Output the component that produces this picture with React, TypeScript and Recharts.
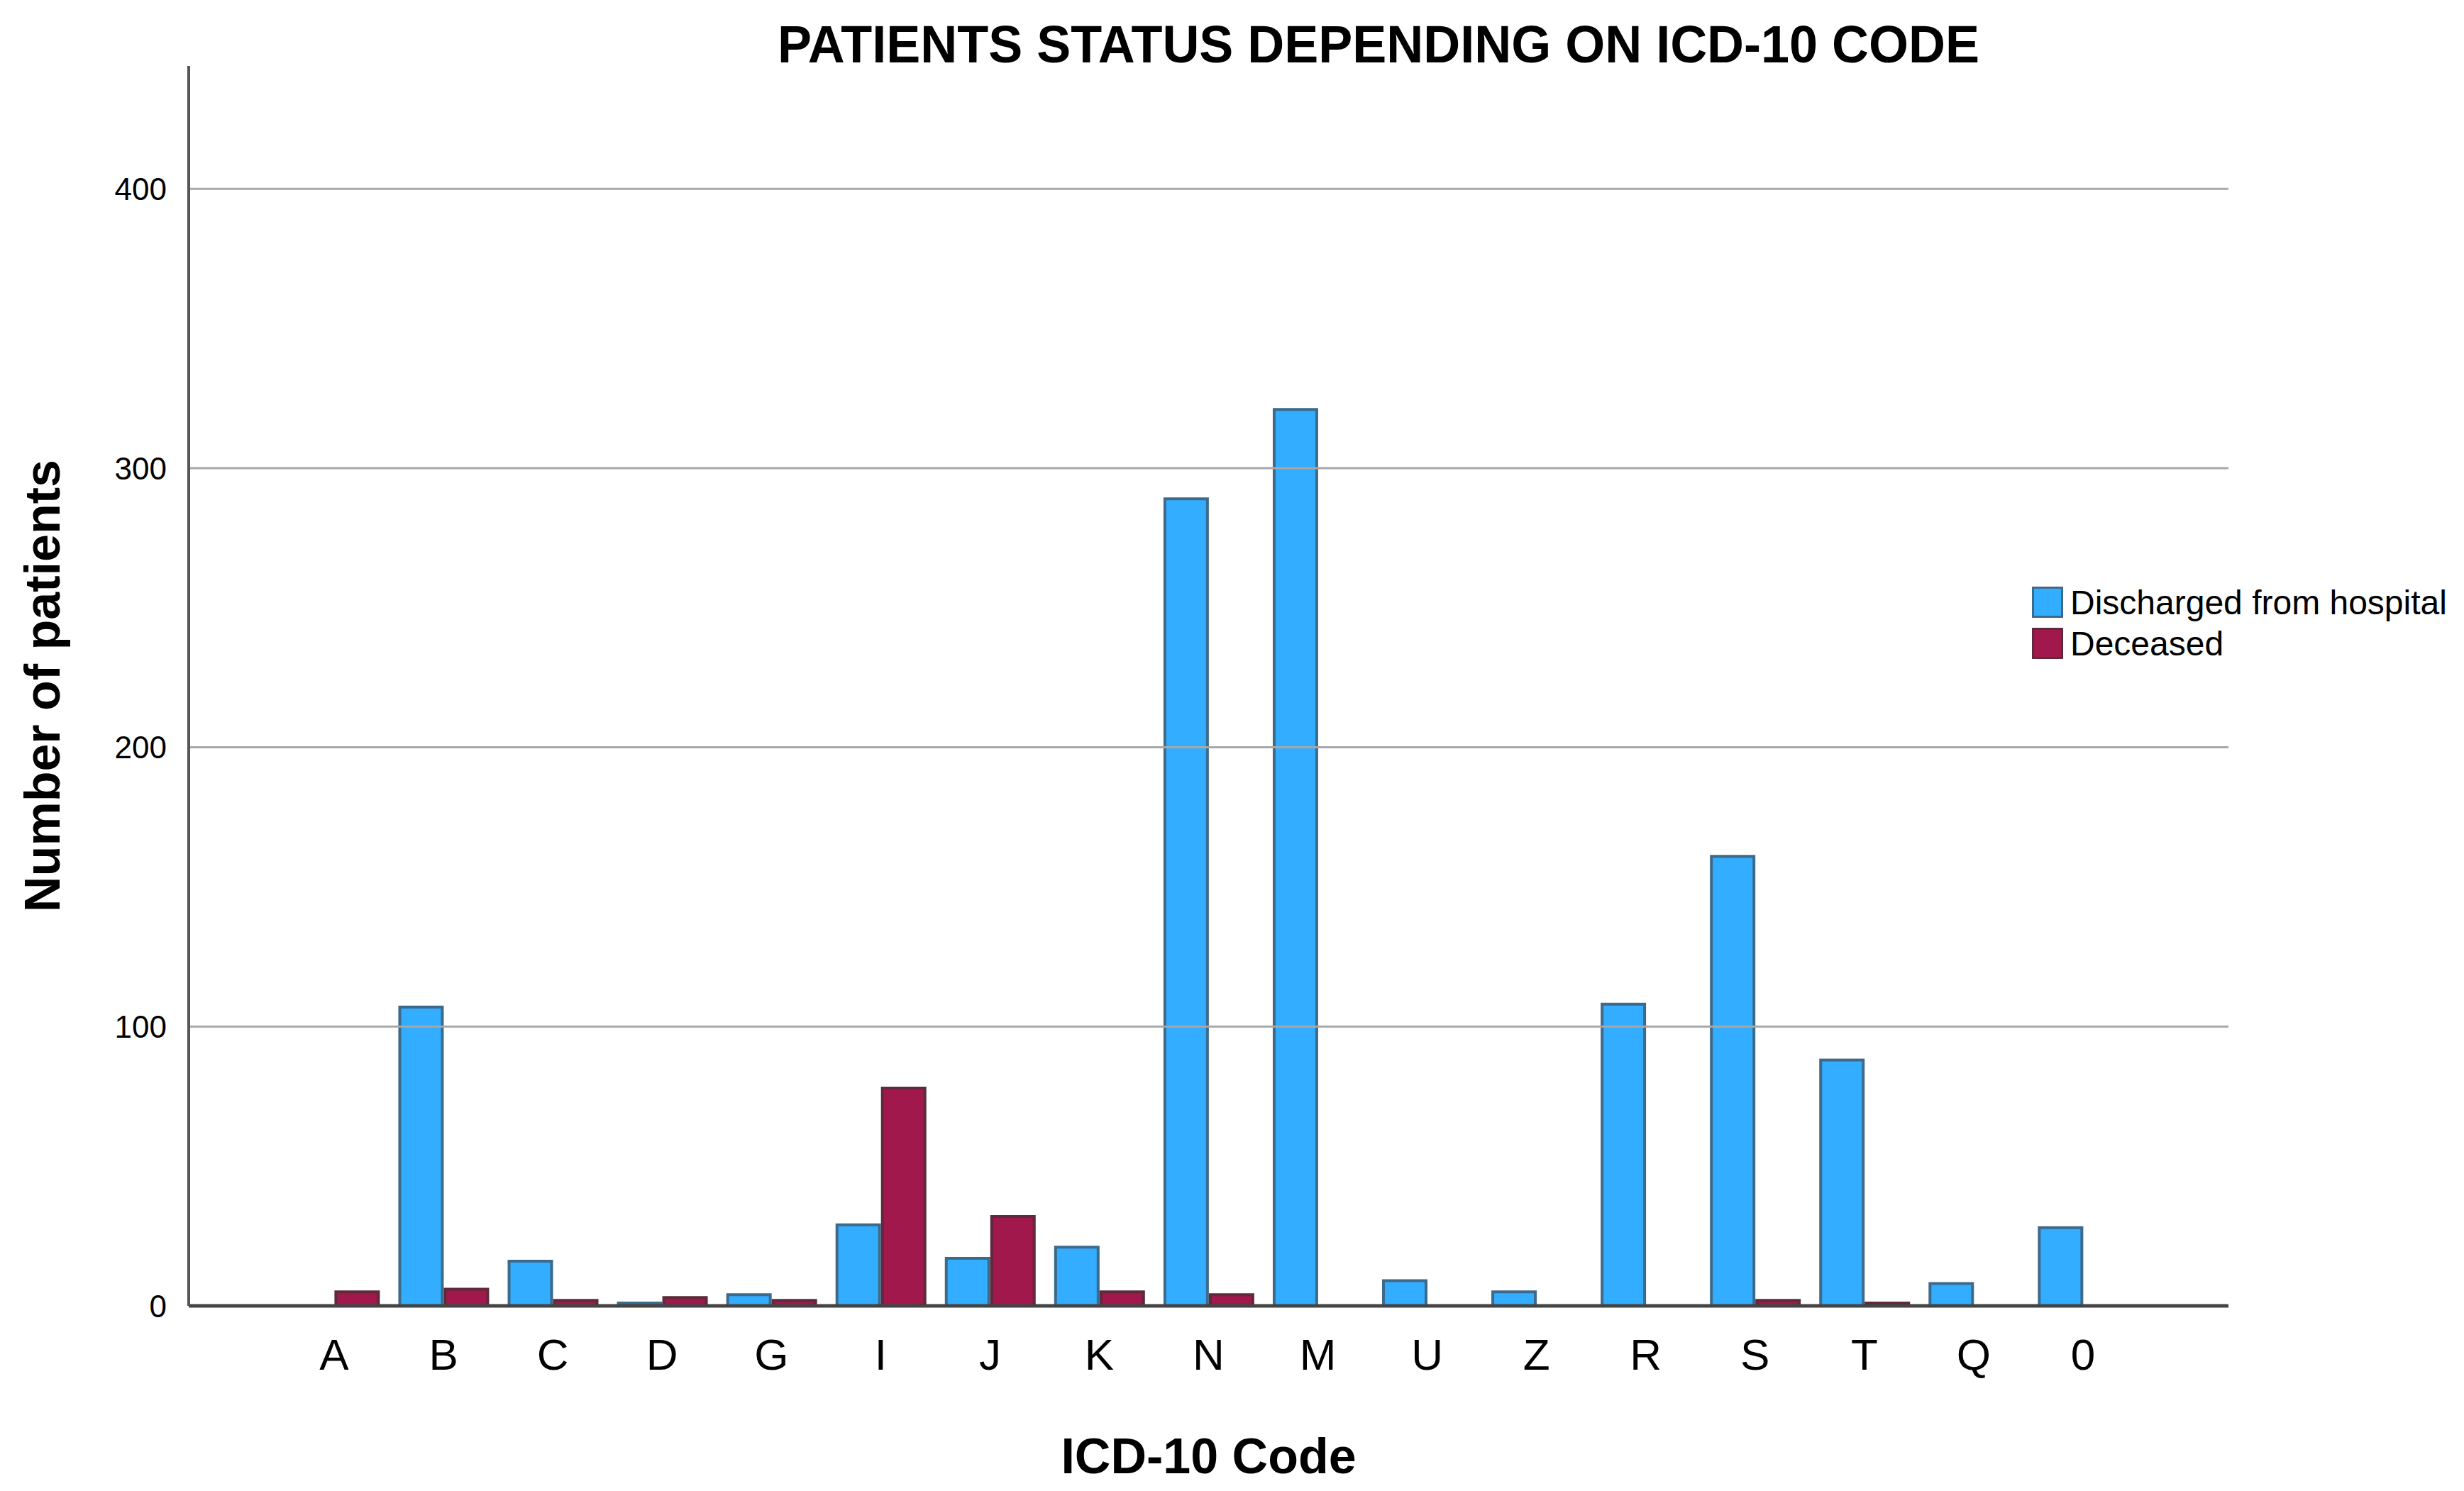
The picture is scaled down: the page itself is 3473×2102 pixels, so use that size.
import { Bar, BarChart, Legend, ReferenceLine, XAxis, YAxis } from "recharts";

const codes = ["A", "B", "C", "D", "G", "I", "J", "K", "N", "M", "U", "Z", "R", "S", "T", "Q", "0"];
const discharged = [0, 107, 16, 1, 4, 29, 17, 21, 289, 321, 9, 5, 108, 161, 88, 8, 28];
const deceased = [5, 6, 2, 3, 2, 78, 32, 5, 4, 0, 0, 0, 0, 2, 1, 0, 0];
const yTicks = [0, 100, 200, 300, 400];

const SERIES = [
  { key: "discharged", name: "Discharged from hospital", fill: "#33adff", stroke: "#3e6a8a" },
  { key: "deceased", name: "Deceased", fill: "#a0184c", stroke: "#5e2a3c" },
];

const FONT = '"Liberation Sans", Arial, sans-serif';

const data = codes.map((code, i) => ({
  code,
  discharged: discharged[i],
  deceased: deceased[i],
}));

function StatusLegend() {
  return (
    <div style={{ fontFamily: FONT, fontSize: 48, color: "#000", whiteSpace: "nowrap" }}>
      {SERIES.map((s) => (
        <div key={s.key} style={{ display: "flex", alignItems: "center", height: 58 }}>
          <span
            style={{
              display: "inline-block",
              width: 38,
              height: 38,
              background: s.fill,
              border: `3px solid ${s.stroke}`,
              marginRight: 10,
            }}
          />
          <span>{s.name}</span>
        </div>
      ))}
    </div>
  );
}

export default function App() {
  return (
    <div style={{ position: "absolute", left: 0, top: 0, width: 3473, height: 2102, background: "#fff" }}>
      <svg
        width={3473}
        height={120}
        style={{ position: "absolute", left: 0, top: 0, pointerEvents: "none" }}
      >
        <text
          x={1943}
          y={88}
          textAnchor="middle"
          fontFamily={FONT}
          fontWeight="bold"
          fontSize={74}
          textLength={1694}
          lengthAdjust="spacingAndGlyphs"
          fill="#000"
        >
          PATIENTS STATUS DEPENDING ON ICD-10 CODE
        </text>
      </svg>
      <BarChart
        width={3473}
        height={2102}
        data={data}
        margin={{ top: 93, right: 332, bottom: 0, left: 0 }}
        barCategoryGap="10%"
        barGap={4}
      >
        {/* grid rows only on the labelled ticks */}
        {yTicks.map((t) => (
          <ReferenceLine key={t} y={t} stroke="#a8a8a8" strokeWidth={3} />
        ))}
        <XAxis
          dataKey="code"
          height={261}
          padding={{ left: 128, right: 128 }}
          axisLine={{ stroke: "#444", strokeWidth: 5 }}
          tickLine={false}
          tickSize={0}
          tickMargin={46}
          tick={{ fontSize: 62, fill: "#000", fontFamily: FONT }}
          interval={0}
          label={{
            value: "ICD-10 Code",
            position: "insideBottom",
            offset: 25,
            style: { fontSize: 70, fontWeight: "bold", fill: "#000", fontFamily: FONT },
          }}
        />
        <YAxis
          width={266}
          domain={[0, 444]}
          ticks={yTicks}
          axisLine={{ stroke: "#555", strokeWidth: 4 }}
          tickLine={false}
          tickSize={0}
          tickMargin={31}
          tick={{ fontSize: 44, fill: "#000", fontFamily: FONT }}
          label={{
            value: "Number of patients",
            angle: -90,
            position: "insideLeft",
            offset: 59,
            style: { textAnchor: "middle", fontSize: 70, fontWeight: "bold", fill: "#000", fontFamily: FONT },
          }}
        />
        <Legend
          layout="vertical"
          align="center"
          verticalAlign="middle"
          content={() => <StatusLegend />}
          wrapperStyle={{ left: 2864, top: 820, width: "auto" }}
        />
        {SERIES.map((s) => (
          <Bar
            key={s.key}
            dataKey={s.key}
            name={s.name}
            fill={s.fill}
            stroke={s.stroke}
            strokeWidth={4}
            isAnimationActive={false}
          />
        ))}
      </BarChart>
    </div>
  );
}
